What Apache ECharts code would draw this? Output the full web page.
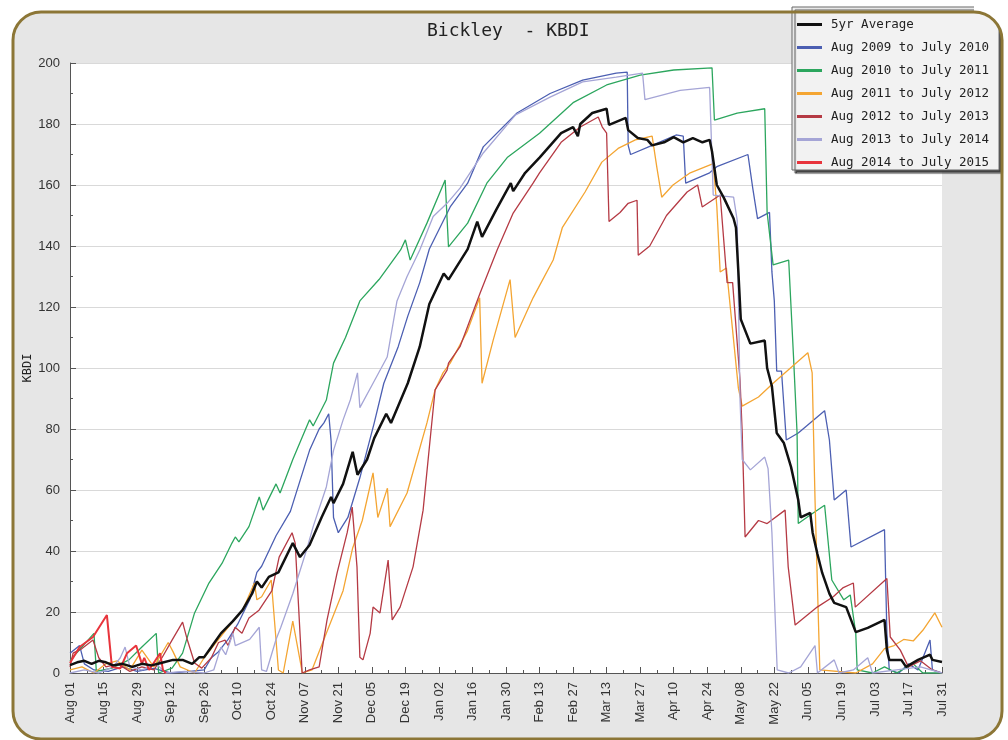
<!DOCTYPE html>
<html>
<head>
<meta charset="utf-8">
<title>Bickley - KBDI</title>
<script src="https://cdn.jsdelivr.net/npm/echarts@6/dist/echarts.min.js"></script>
<style>
  html, body { margin: 0; padding: 0; background: #fff; }
  #chart { width: 1008px; height: 740px; }
</style>
</head>
<body>
<div id="chart"></div>
<script>
// x axis: day of season (0 = Aug 01, 364 = Jul 31), labels every 14 days
const xTickLabels = ['Aug 01', 'Aug 15', 'Aug 29', 'Sep 12', 'Sep 26', 'Oct 10', 'Oct 24',
  'Nov 07', 'Nov 21', 'Dec 05', 'Dec 19', 'Jan 02', 'Jan 16', 'Jan 30', 'Feb 13', 'Feb 27',
  'Mar 13', 'Mar 27', 'Apr 10', 'Apr 24', 'May 08', 'May 22', 'Jun 05', 'Jun 19', 'Jul 03',
  'Jul 17', 'Jul 31']

const seriesNames = ['5yr Average', 'Aug 2009 to July 2010', 'Aug 2010 to July 2011',
  'Aug 2011 to July 2012', 'Aug 2012 to July 2013', 'Aug 2013 to July 2014',
  'Aug 2014 to July 2015']

// [day, KBDI]
const avg5yr = [[0,2.6],[3,3.5],[6,4],[9,3],[12,4],[15,3.5],[18,2.5],[22,3],[26,2],[30,3],[34,2.5],
  [38,3.3],[43,4.3],[47,4.3],[51,3],[54,5.2],[56,5.2],[59,8.5],[63,13],[68,17],[72,20.6],[76,26],
  [78,30],[80,28],[83,31.5],[87,33],[93,42.6],[96,38],[100,42],[105,51],[109,57.7],[110,55.7],
  [114,62],[118,72.5],[120,65],[124,70],[127,77],[132,85],[134,82],[141,95],[146,107],[150,121],
  [156,131],[158,129],[166,139],[170,148],[172,143],[178,152],[184,160.6],[185,158],[190,164],
  [196,169],[205,177],[210,179],[212,176],[213,180],[218,183.6],[224,185],[225,179.7],[232,182],
  [233,178],[237,175.4],[241,174.8],[243,173],[248,174],[252,175.7],[256,174],[260,175.4],
  [264,174],[267,174.8],[268,171],[270,160],[273,155.7],[277,149],[278,146],[279,131.5],[280,116],
  [284,108],[290,109],[291,100],[293,94],[295,78.7],[298,75.4],[301,67.5],[304,56.7],[305,51],
  [309,52.5],[310,46],[312,39],[314,32.8],[317,26],[319,23],[324,21.6],[328,13.4],[333,14.8],
  [340,17.4],[341,7.5],[342,4.3],[347,4.3],[349,2],[354,4.3],[359,6],[360,4.3],[364,3.6]]

const y2009 = [[0,6.5],[4,9],[6,3],[10,1],[16,0.5],[22,2],[28,0.5],[35,1.5],[42,0],[50,0.5],[56,1],
  [59,5],[62,7],[66,11],[70,16],[75,24],[77,30],[78,33],[80,35],[86,45],[92,53],[96,63],[100,73],
  [104,80],[106,82],[108,85],[109,76],[110,51],[112,46],[116,51],[121,64],[127,82],[131,95],
  [137,107],[141,117],[146,128],[150,139],[158.7,152.8],[166,160.6],[172.5,172.5],[186.6,183.6],
  [200.4,190],[214,194.4],[228,196.7],[232.6,197],[233,173],[234,170],[243,173],[253,176.4],
  [256,176],[257,160.6],[267,164],[270,166],[283,170],[285,159],[287,149],[292,151],[293,131.5],
  [294,122],[295,99],[297,99],[299,76.4],[304,78.7],[315,86],[317,76.4],[319,56.7],[324,60],
  [326,41.3],[340,47],[341,13],[342,1],[346,0],[350,3],[354,1],[359,10.8],[360,1],[364,0]]

const y2010 = [[0,4],[1,5],[10,13],[11,0.5],[17.5,1.6],[24.6,4.3],[30,8.5],[36,13],[37,0],
  [42.6,1.6],[47,6.5],[52,19.7],[58,29.5],[63.5,36],[67.6,42.6],[69,44.6],[70.5,43],[74.7,48],
  [79,57.7],[80.6,53.4],[86,62],[87.7,59],[93,70],[100,83],[101.5,81],[107,89.5],[110,101.6],
  [115,110],[121,122],[129,129],[138,138.7],[140,142],[142,135.4],[149,147.5],[156.6,161.6],
  [158,139.7],[166,147.5],[174,160.6],[182.5,169],[196,177],[210,187],[224,192.8],[238,196],
  [252,197.7],[268,198.4],[269,181.3],[278.5,183.6],[290,185],[291,151],[293.5,133.8],[300,135.4],
  [302,104],[303.5,78.7],[304,49],[309,51.8],[315,55],[318,30.5],[323,24],[325.7,25.6],[328,13],
  [328.6,1],[335,0],[340,2],[345,0],[352,3],[356,0],[364,0]]

const y2011 = [[0,1],[5,2],[10,0],[15,3],[19.6,4],[25,1],[30,7.5],[35,2],[41,10],[43,7],[46,2],
  [52,0],[56,5],[62,11],[66,15],[72,20.6],[77,29.5],[78,24],[80,25],[84,30.5],[87,1],[89,0],
  [93,17],[97,0],[101,1],[107,13],[114,27],[118,41],[122,50],[126.5,65.6],[128.5,51],[132.5,60.6],
  [133.6,48],[140.7,59],[149,82],[152.4,92.8],[155.7,98.4],[158.7,101.6],[165.8,112],[171,123],
  [172,95],[176.6,109],[183.7,129],[185.8,110],[193.3,123],[196,127],[201.7,135.4],[205.5,146],
  [215,157.7],[222,167.5],[228.8,172],[236,174.8],[243,176],[245,165.6],[247,156],[251.7,160],
  [258.9,164],[268.5,167],[270,153],[271.4,131.5],[274,132.8],[276,117],[279,93.4],[280.6,87.5],
  [287.4,90.5],[293.5,95],[308,105],[309.8,98.4],[311,56.7],[313,1],[328,0],[335,3],[340,8],
  [344,9],[348,11],[352,10.5],[356,14],[361,19.7],[364,15]]

const y2012 = [[0,2],[1.3,6.5],[5,8],[9.6,10.8],[12,5],[15,2],[20,3],[25,0.5],[30,2],[35,1],
  [38.4,5],[42.6,10.8],[47,16.7],[49,10.8],[52,3.3],[55,1.6],[59,5],[62,10],[64.7,10.8],[66,9],
  [68.9,15],[71.8,13],[74.7,18],[78.9,20.6],[84.3,27],[87.3,38],[92.7,46],[94,42.6],[96.9,0],
  [100,1],[104,2],[107.3,17.4],[111.5,32.8],[115.7,46],[117.8,54.4],[119.8,34.8],[121,5.2],
  [122.3,4.3],[125.3,13],[126.5,21.6],[129.4,19.7],[132.8,37],[134.5,17.4],[137.8,21.6],
  [143.2,34.8],[147.4,53.4],[150.6,78.7],[152.4,92.8],[157.4,99.3],[158,101.6],[162.8,107],
  [171.2,124.6],[178.3,138.7],[185,150.8],[193.3,160.6],[196,164],[205,174],[213,179],
  [220.5,182.3],[222.2,179],[224,177],[225,148],[229.6,151],[233,154],[236.7,155],[237.2,137],
  [242,140],[249,150],[257.6,157.7],[262,160],[263.9,152.8],[271.4,156.7],[274.3,128],[276.6,128],
  [279.7,96],[280.6,78.7],[281.8,44.6],[287.4,50],[291,49],[298.5,53.4],[299.8,34.8],[302.7,15.7],
  [311.9,21.6],[318.6,25],[322.8,28],[327,29.5],[327.8,21.6],[341,31],[342.4,11.8],[346.6,7.5],
  [350,2],[355,4],[360,1],[364,0]]

const y2013 = [[0,0],[6,1],[12,0],[18,2],[21,5],[23,8.5],[25,2],[30,1],[36,3],[40,0],[48,0.5],
  [56,0],[60,1],[63,8.5],[65,6],[68,13],[69,9],[75,11],[79,15],[80,1],[82,0.5],[86,11],[88,15],
  [93,26],[99,41],[101.5,48],[107,61],[110,73],[114,83],[117,89.5],[120,98.4],[121,87],[126.5,95],
  [132.4,103.6],[136.5,122],[140.7,130],[146,138.7],[151.6,149.7],[157.4,154],[162.8,159],
  [172.5,170.5],[186,183],[200.4,188.8],[214,193.8],[228,195.4],[239,196.7],[240,188],
  [254.7,191],[267,192],[268.5,156.7],[277,156],[278.5,148.5],[279.7,89.5],[280.6,70],[284,66.6],
  [290,70.8],[291.4,67],[293,46],[295.2,1],[300,0],[305,2],[311,9],[312,0],[319,4.3],[321,0],
  [327,1],[333,5],[335,0],[345,1],[355,2],[364,0]]

const y2014 = [[0,3.3],[4,8.5],[9.6,11.8],[15.4,19],[17.5,2],[21,1.5],[23.8,6.5],[27.6,9],[30,3],
  [31,5],[33,1],[37.6,6.5],[38.8,1],[40,0]]

const seriesData = [avg5yr, y2009, y2010, y2011, y2012, y2013, y2014]
const seriesColors = ['#111111', '#4c5fb2', '#2ca65e', '#f4a532', '#b53a44', '#a5a5d6', '#e8343c']
const seriesWidths = [2.5, 1.3, 1.3, 1.3, 1.3, 1.3, 2]

const monoFont = '"DejaVu Sans Mono", "Liberation Mono", monospace'
const sansFont = '"Liberation Sans", Arial, sans-serif'

const chart = echarts.init(document.getElementById('chart'))

const frame = { x: 13, y: 12, width: 989, height: 727, r: 28 }

// white mask outside the rounded top-right corner (legend box sits under it)
const cornerCx = frame.x + frame.width - frame.r
const cornerCy = frame.y + frame.r
const cornerMask = [[cornerCx, 0], [1008, 0], [1008, cornerCy]]
for (let k = 0; k <= 12; k++) {
  const a = (k / 12) * Math.PI / 2
  cornerMask.push([cornerCx + frame.r * Math.cos(a), cornerCy - frame.r * Math.sin(a)])
}

const option = {
  animation: false,
  backgroundColor: '#ffffff',
  graphic: [
    { type: 'rect', z: -10, silent: true, shape: frame, style: { fill: '#e6e6e6' } },
    { type: 'polygon', z: 99, silent: true, shape: { points: cornerMask }, style: { fill: '#ffffff' } },
    { type: 'rect', z: 100, silent: true, shape: frame,
      style: { fill: null, stroke: '#8c7636', lineWidth: 3 } }
  ],
  title: {
    text: 'Bickley  - KBDI',
    left: 422,
    top: 17,
    textStyle: { fontFamily: monoFont, fontSize: 18, fontWeight: 'normal', color: '#222' }
  },
  legend: {
    orient: 'vertical',
    left: 792,
    top: 7,
    padding: [11, 10, 1, 5],
    itemWidth: 25,
    itemHeight: 3,
    itemGap: 10,
    icon: 'rect',
    backgroundColor: '#f2f2f2',
    borderColor: '#666',
    borderWidth: 1,
    shadowColor: 'rgba(50,50,50,0.9)',
    shadowBlur: 1,
    shadowOffsetX: 3,
    shadowOffsetY: 3,
    textStyle: { fontFamily: monoFont, fontSize: 12.5, color: '#222', padding: [0, 0, 0, 4] },
    data: seriesNames
  },
  grid: {
    left: 70, right: 66, top: 63, bottom: 67,
    show: true, backgroundColor: '#ffffff', borderWidth: 0
  },
  xAxis: {
    type: 'value',
    min: 0,
    max: 364,
    interval: 14,
    axisLine: { show: true, lineStyle: { color: '#555', width: 1 } },
    axisTick: { show: true, inside: true, length: 6, lineStyle: { color: '#555' } },
    minorTick: { show: true, splitNumber: 2, length: 3, lineStyle: { color: '#555' } },
    splitLine: { show: false },
    axisLabel: {
      rotate: 90,
      margin: 9,
      fontFamily: sansFont,
      fontSize: 13,
      color: '#333',
      formatter: v => xTickLabels[Math.round(v / 14)]
    }
  },
  yAxis: {
    type: 'value',
    min: 0,
    max: 200,
    interval: 20,
    name: 'KBDI',
    nameLocation: 'middle',
    nameRotate: 90,
    nameGap: 36,
    nameMoveOverlap: false,
    nameTextStyle: { fontFamily: monoFont, fontSize: 12, color: '#222' },
    axisLine: { show: true, lineStyle: { color: '#555', width: 1 } },
    axisTick: { show: true, inside: true, length: 6, lineStyle: { color: '#555' } },
    minorTick: { show: true, splitNumber: 2, length: 3, lineStyle: { color: '#555' } },
    splitLine: { show: true, lineStyle: { color: '#d9d9d9', width: 1.2 } },
    axisLabel: { margin: 10, fontFamily: sansFont, fontSize: 13, color: '#333' }
  },
  series: seriesNames.map((name, i) => ({
    name: name,
    type: 'line',
    data: seriesData[i],
    symbol: 'none',
    showSymbol: false,
    z: i === 0 ? 5 : 2,
    lineStyle: { color: seriesColors[i], width: seriesWidths[i] },
    itemStyle: { color: seriesColors[i] }
  }))
}

chart.setOption(option)
</script>
</body>
</html>
